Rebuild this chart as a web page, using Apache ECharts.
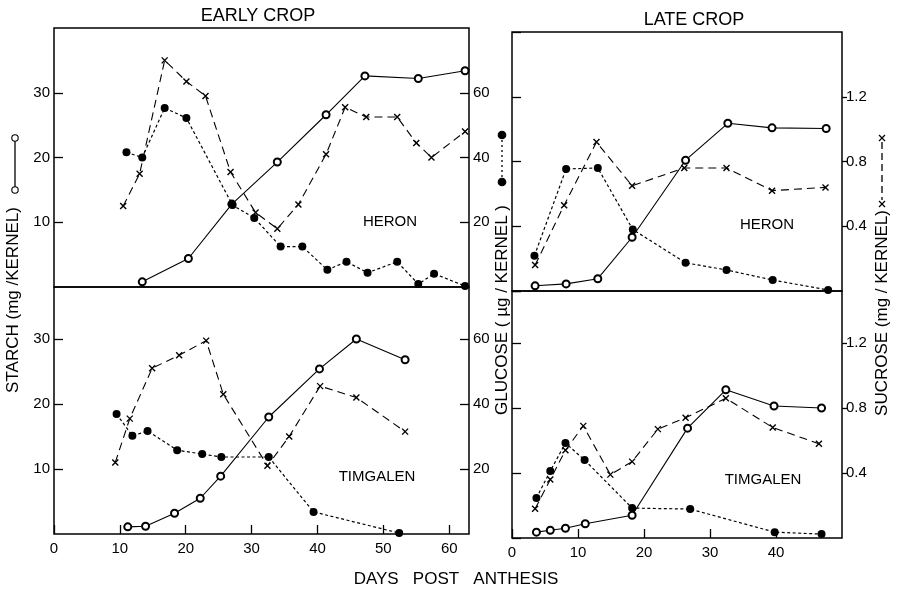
<!DOCTYPE html>
<html>
<head>
<meta charset="utf-8">
<script src="https://cdn.jsdelivr.net/npm/echarts@6/dist/echarts.min.js"></script>
<style>html,body{margin:0;padding:0;background:#fff}#chart{width:901px;height:592px}</style>
</head>
<body>
<div id="chart"></div>
<script>
// [day post anthesis, value]
// starch mg/kernel, glucose ug/kernel, sucrose mg/kernel
var earlyHeronStarch = [[13.4,0.8],[20.4,4.4],[27.0,12.8],[33.9,19.3],[41.3,26.6],[47.2,32.6],[55.3,32.2],[62.4,33.4]];
var earlyHeronGlucose = [[11.0,41.6],[13.4,40.0],[16.8,55.3],[20.1,52.2],[27.1,25.3],[30.4,21.3],[34.4,12.5],[37.7,12.5],[41.5,5.3],[44.4,7.8],[47.6,4.4],[52.1,7.8],[55.3,0.9],[57.7,4.1],[62.4,0.3]];
var earlyHeronSucrose = [[10.5,0.50],[13.0,0.70],[16.8,1.40],[20.1,1.27],[23.0,1.18],[26.8,0.71],[30.6,0.46],[33.9,0.36],[37.1,0.51],[41.3,0.82],[44.2,1.11],[47.4,1.05],[52.1,1.05],[55.0,0.89],[57.3,0.80],[62.4,0.96]];

var earlyTimgalenStarch = [[11.2,1.1],[13.9,1.2],[18.3,3.2],[22.2,5.5],[25.3,8.9],[32.6,18.0],[40.3,25.4],[45.9,30.0],[53.3,26.8]];
var earlyTimgalenGlucose = [[9.5,36.9],[11.9,30.2],[14.2,31.7],[18.7,25.8],[22.5,24.6],[25.4,23.7],[32.6,23.7],[39.4,6.8],[52.4,0.3]];
var earlyTimgalenSucrose = [[9.3,0.44],[11.5,0.71],[14.9,1.02],[19.0,1.10],[23.1,1.19],[25.7,0.86],[32.4,0.42],[35.7,0.60],[40.4,0.91],[45.9,0.84],[53.3,0.63]];

var lateHeronStarch = [[3.5,0.8],[8.2,1.1],[13.0,1.9],[18.2,8.3],[26.3,20.2],[32.7,25.9],[39.4,25.2],[47.6,25.1]];
var lateHeronGlucose = [[3.4,10.9],[8.2,37.7],[13.0,38.0],[18.3,19.0],[26.3,8.7],[32.5,6.5],[39.5,3.4],[47.9,0.3]];
var lateHeronSucrose = [[3.5,0.16],[7.9,0.53],[12.8,0.92],[18.2,0.65],[26.1,0.76],[32.5,0.76],[39.4,0.62],[47.5,0.64]];

var lateTimgalenStarch = [[3.7,0.9],[5.8,1.2],[8.1,1.5],[11.1,2.2],[18.2,3.5],[26.6,16.9],[32.4,22.8],[39.7,20.3],[46.9,20.0]];
var lateTimgalenGlucose = [[3.7,12.3],[5.8,20.6],[8.1,29.2],[11.0,24.0],[18.2,9.2],[27.0,8.9],[39.8,1.8],[46.9,1.2]];
var lateTimgalenSucrose = [[3.5,0.18],[5.8,0.36],[8.1,0.54],[10.8,0.69],[14.9,0.39],[18.2,0.47],[22.1,0.67],[26.3,0.74],[32.4,0.86],[39.5,0.68],[46.5,0.58]];

var panelNames = ['HERON', 'TIMGALEN', 'HERON', 'TIMGALEN'];

var FONT = 'Liberation Sans';
var chart = echarts.init(document.getElementById('chart'));

var grids = [
  {left: 54, top: 28, width: 415, height: 259},
  {left: 54, top: 287, width: 415, height: 247},
  {left: 512, top: 32, width: 330, height: 259},
  {left: 512, top: 291, width: 330, height: 247}
];
grids.forEach(function (g) { g.show = true; g.borderColor = '#000'; g.borderWidth = 1.5; g.backgroundColor = 'transparent'; });

var labelStyle = {color: '#000', fontFamily: FONT, fontSize: 15};
var inTick = {show: true, inside: true, length: 9, lineStyle: {color: '#000', width: 1.3}};
var noTick = {show: false};

function xAx(gi, max, shown) {
  return {
    type: 'value', gridIndex: gi, min: 0, max: max, interval: 10,
    axisLine: {show: false}, splitLine: {show: false},
    axisTick: shown ? inTick : noTick,
    axisLabel: shown ? Object.assign({show: true, margin: 7, showMaxLabel: false}, labelStyle) : {show: false}
  };
}

function yAx(gi, max, interval, pos, ticks, labels, fmt) {
  return {
    type: 'value', gridIndex: gi, min: 0, max: max, interval: interval, position: pos,
    axisLine: {show: false}, splitLine: {show: false},
    axisTick: ticks ? inTick : noTick,
    axisLabel: labels ? Object.assign({show: true, margin: 4, showMinLabel: false, showMaxLabel: false, formatter: fmt}, labelStyle) : {show: false}
  };
}
var sucFmt = function (v) { return v.toFixed(1); };

var xAxes = [xAx(0, 63, false), xAx(1, 63, true), xAx(2, 50, false), xAx(3, 50, true)];
var yAxes = [
  // top left
  yAx(0, 40, 10, 'left', true, true), yAx(0, 80, 20, 'right', true, true), yAx(0, 1.6, 0.4, 'right', false, false),
  // bottom left
  yAx(1, 38, 10, 'left', true, true), yAx(1, 76, 20, 'right', true, true), yAx(1, 1.52, 0.4, 'right', false, false),
  // top right
  yAx(2, 40, 10, 'left', false, false), yAx(2, 80, 20, 'left', true, false), yAx(2, 1.6, 0.4, 'right', false, true, sucFmt),
  // bottom right
  yAx(3, 38, 10, 'left', false, false), yAx(3, 76, 20, 'left', true, false), yAx(3, 1.52, 0.4, 'right', false, true, sucFmt)
];
// sucrose ticks sit outside the right border
[8, 11].forEach(function (i) { yAxes[i].axisTick = {show: true, inside: false, length: 5, lineStyle: {color: '#000', width: 1.3}}; });

var xPath = 'path://M0 0L10 10M10 0L0 10';

function starch(data, g) {
  return {type: 'line', xAxisIndex: g, yAxisIndex: g * 3, data: data, z: 3,
    symbol: 'emptyCircle', symbolSize: 7,
    lineStyle: {color: '#000', width: 1.1}, itemStyle: {color: '#000', borderWidth: 1}};
}
function glucose(data, g) {
  return {type: 'line', xAxisIndex: g, yAxisIndex: g * 3 + 1, data: data, z: 4,
    symbol: 'circle', symbolSize: 8,
    lineStyle: {color: '#000', width: 1.2, type: [3, 2.5]}, itemStyle: {color: '#000'}};
}
function sucrose(data, g) {
  return {type: 'line', xAxisIndex: g, yAxisIndex: g * 3 + 2, data: data, z: 2,
    symbol: xPath, symbolSize: 6,
    lineStyle: {color: '#000', width: 1.1, type: [8, 5]}, itemStyle: {color: 'none', borderColor: '#000', borderWidth: 1.4}};
}

var series = [
  starch(earlyHeronStarch, 0), glucose(earlyHeronGlucose, 0), sucrose(earlyHeronSucrose, 0),
  starch(earlyTimgalenStarch, 1), glucose(earlyTimgalenGlucose, 1), sucrose(earlyTimgalenSucrose, 1),
  starch(lateHeronStarch, 2), glucose(lateHeronGlucose, 2), sucrose(lateHeronSucrose, 2),
  starch(lateTimgalenStarch, 3), glucose(lateTimgalenGlucose, 3), sucrose(lateTimgalenSucrose, 3)
];

function txt(x, y, s, size, rot) {
  return {type: 'text', x: x, y: y, rotation: rot || 0,
    style: {text: s, fill: '#000', font: size + 'px "' + FONT + '"', align: 'center', verticalAlign: 'middle'}};
}
function seg(x1, y1, x2, y2, dash) {
  return {type: 'line', shape: {x1: x1, y1: y1, x2: x2, y2: y2}, style: {stroke: '#000', lineWidth: 1.3, lineDash: dash || null}};
}
function dot(x, y, filled) {
  return {type: 'circle', shape: {cx: x, cy: y, r: filled ? 3.8 : 3.2}, style: {fill: filled ? '#000' : '#fff', stroke: '#000', lineWidth: 1.1}, z: 10};
}
function cross(x, y) {
  return [seg(x - 3, y - 3, x + 3, y + 3), seg(x - 3, y + 3, x + 3, y - 3)];
}

var labelPos = [[390, 222], [377, 477], [767, 225], [763, 480]];
var graphics = [
  txt(258, 16, 'EARLY CROP', 18),
  txt(694, 20, 'LATE CROP', 18),
  txt(456, 579, 'DAYS   POST   ANTHESIS', 17),
  txt(13, 300, 'STARCH (mg /KERNEL)', 17, Math.PI / 2),
  txt(502, 310, 'GLUCOSE ( \u00b5g / KERNEL )', 17, Math.PI / 2),
  txt(882, 313, 'SUCROSE (mg / KERNEL)', 17, Math.PI / 2),
  // key marks next to the axis titles
  seg(15, 138, 15, 190), dot(15, 138, false), dot(15, 190, false),
  seg(502, 135, 502, 182, [2, 3]), dot(502, 135, true), dot(502, 182, true),
  seg(882, 142, 882, 200, [7, 4])
].concat(cross(882, 138), cross(882, 204));
panelNames.forEach(function (n, i) { graphics.push(txt(labelPos[i][0], labelPos[i][1], n, 15)); });

chart.setOption({
  animation: false,
  grid: grids,
  xAxis: xAxes,
  yAxis: yAxes,
  series: series,
  graphic: graphics
});
</script>
</body>
</html>
